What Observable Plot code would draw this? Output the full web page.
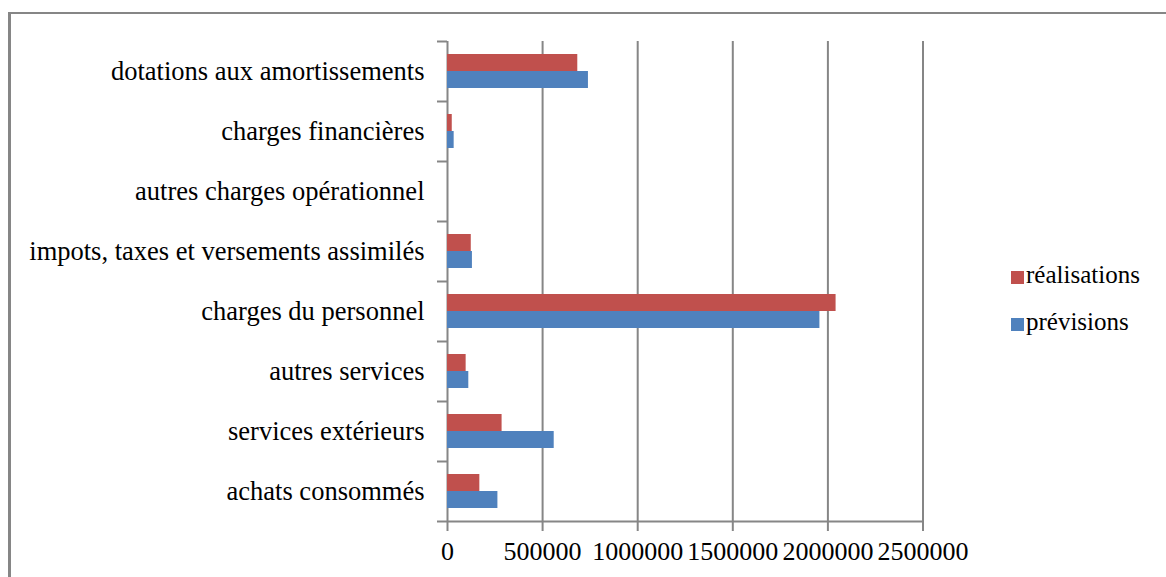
<!DOCTYPE html>
<html>
<head>
<meta charset="utf-8">
<script src="https://cdn.jsdelivr.net/npm/d3@7"></script>
<script src="https://cdn.jsdelivr.net/npm/@observablehq/plot@0.6"></script>
<style>
  html, body { margin: 0; padding: 0; background: #fff; }
  #wrap { position: relative; width: 1166px; height: 577px; overflow: hidden; }
  #frame { position: absolute; left: 8px; top: 12px; width: 1200px; height: 600px;
           border-top: 2px solid #868686; border-left: 3px solid #868686; pointer-events: none; }
  #legend { position: absolute; left: 1011px; top: 263px; font-family: "Liberation Serif", "Times New Roman", Times, "DejaVu Serif", serif;
            font-size: 25px; color: #000; }
  .item { display: flex; align-items: center; height: 24px; margin-bottom: 23px; }
  .sw { width: 13px; height: 13px; margin-right: 2px; margin-top: 4px; }
  svg text { font-family: "Liberation Serif", "Times New Roman", Times, "DejaVu Serif", serif; }
</style>
</head>
<body>
<div id="wrap">
  <div id="chart"></div>
  <div id="frame"></div>
  <div id="legend"></div>
</div>
<script>
const categories = [
  "dotations aux amortissements",
  "charges financières",
  "autres charges opérationnel",
  "impots, taxes et versements assimilés",
  "charges du personnel",
  "autres services",
  "services extérieurs",
  "achats consommés"
];
const realisations = [685000, 25000, 0, 125000, 2043000, 98000, 287000, 170000];
const previsions   = [741000, 35000, 0, 131000, 1958000, 112000, 561000, 265000];
const seriesNames = ["réalisations", "prévisions"];
const seriesColors = ["#C0504D", "#4F81BD"];
const xTicks = [0, 500000, 1000000, 1500000, 2000000, 2500000];

const realRows = categories.map((c, i) => ({cat: c, serie: seriesNames[0], value: realisations[i]}));
const prevRows = categories.map((c, i) => ({cat: c, serie: seriesNames[1], value: previsions[i]}));

const font = "'Liberation Serif', 'Times New Roman', Times, 'DejaVu Serif', serif";
const grey = "#868686";

const chart = Plot.plot({
  width: 1166,
  height: 577,
  marginLeft: 447,
  marginRight: 243.5,
  marginTop: 41,
  marginBottom: 56,
  style: {fontFamily: font, background: "transparent"},
  x: {domain: [0, 2500000], axis: null, label: null},
  y: {domain: categories, padding: 0, axis: null, label: null},
  color: {domain: seriesNames, range: seriesColors},
  marks: [
    Plot.ruleX(xTicks, {stroke: grey, strokeWidth: 2}),
    Plot.ruleY([categories[categories.length - 1]], {dy: 30, stroke: grey, strokeWidth: 2}),
    Plot.barX(realRows, {x: "value", y: "cat", fill: "serie", insetTop: 13, insetBottom: 30}),
    Plot.barX(prevRows, {x: "value", y: "cat", fill: "serie", insetTop: 30, insetBottom: 13}),
    Plot.axisY({tickSize: 10, tickFormat: null, label: null, dy: -30, stroke: grey, strokeWidth: 2}),
    Plot.axisY({ticks: [categories[categories.length - 1]], tickSize: 10, tickFormat: null, label: null, dy: 30, stroke: grey, strokeWidth: 2}),
    Plot.axisY({tickSize: 0, tickPadding: 23, fontSize: 26.5, fill: "#000", label: null, fontFamily: font}),
    Plot.axisX({ticks: xTicks, tickSize: 10, tickPadding: 10, fontSize: 26, fill: "#000", stroke: grey, strokeWidth: 2,
                label: null, fontFamily: font, tickFormat: d => String(d)})
  ]
});
document.getElementById("chart").appendChild(chart);

const legend = document.getElementById("legend");
seriesNames.forEach((name, i) => {
  const item = document.createElement("div");
  item.className = "item";
  const sw = document.createElement("div");
  sw.className = "sw";
  sw.style.background = seriesColors[i];
  const label = document.createElement("span");
  label.textContent = name;
  item.appendChild(sw);
  item.appendChild(label);
  legend.appendChild(item);
});
</script>
</body>
</html>
